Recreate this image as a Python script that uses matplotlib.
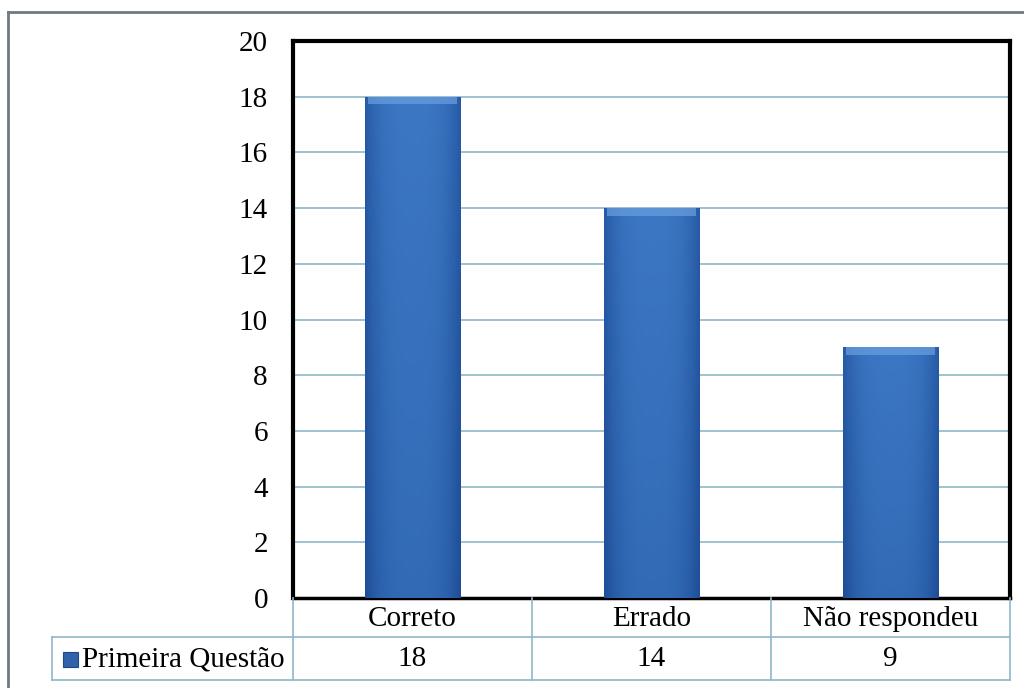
import numpy as np
import matplotlib.pyplot as plt
from matplotlib.lines import Line2D
from matplotlib.patches import Rectangle

categories = ["Correto", "Errado", "Não respondeu"]
values = [18, 14, 9]
series_name = "Primeira Questão"
yticks = [0, 2, 4, 6, 8, 10, 12, 14, 16, 18, 20]

plt.rcParams['font.family'] = ['Liberation Serif', 'DejaVu Serif']

W, H = 1024, 688
fig = plt.figure(figsize=(W / 100, H / 100), dpi=100)

def fx(px):
    return px / W

def fy(py):
    return 1 - py / H

x0, x1, ytop, ybot = 293, 1010, 41, 598
ax = fig.add_axes([fx(x0), fy(ybot), fx(x1) - fx(x0), fy(ytop) - fy(ybot)])

grid_c = "#8fb8c8"
x = np.arange(len(categories))
bars = ax.bar(x, values, width=0.4, color="#3a74bd", zorder=2)

# gradient fill for each bar (lighter top/centre, darker sides and bottom)
gx = np.linspace(-1, 1, 80)
gy = np.linspace(0, 1, 200)
GX, GY = np.meshgrid(gx, gy)
shade = 0.55 + 0.2 * GY - 0.45 * np.abs(GX) ** 3
c_top = np.array([0.28, 0.53, 0.84])
c_bot = np.array([0.10, 0.28, 0.56])
img = c_bot[None, None, :] + (c_top - c_bot)[None, None, :] * np.clip(shade, 0, 1)[..., None]
for b in bars:
    bx, bw, bh = b.get_x(), b.get_width(), b.get_height()
    im = ax.imshow(img, extent=[bx, bx + bw, 0, bh], origin="lower",
                   aspect="auto", zorder=3, interpolation="bilinear")
    im.set_clip_path(b)
    ax.add_patch(Rectangle((bx + 0.012, bh - 0.28), bw - 0.024, 0.28,
                           color="#6aa0e0", alpha=0.7, lw=0, zorder=4))

ax.set_xlim(-0.5, len(categories) - 0.5)
ax.set_ylim(0, 20)
ax.set_yticks(yticks)
ax.set_yticklabels([str(v) for v in yticks], fontsize=21)
ax.set_xticks([])
ax.tick_params(axis="y", length=0, pad=18)
ax.yaxis.grid(True, color=grid_c, lw=1.2, zorder=1)
ax.set_axisbelow(True)
for s in ax.spines.values():
    s.set_linewidth(3)
    s.set_color("black")
ax.spines["bottom"].set_linewidth(2.5)

# data table below the axes
col_w = (x1 - x0) / len(categories)
r1, r2, r3 = 598, 637, 680
tl = dict(color=grid_c, lw=1.2, transform=fig.transFigure)
fig.add_artist(Line2D([fx(52), fx(x1)], [fy(r2), fy(r2)], **tl))
fig.add_artist(Line2D([fx(52), fx(x1)], [fy(r3), fy(r3)], **tl))
fig.add_artist(Line2D([fx(52), fx(52)], [fy(r2), fy(r3)], **tl))
for i in range(len(categories) + 1):
    xx = x0 + i * col_w
    fig.add_artist(Line2D([fx(xx), fx(xx)], [fy(r1), fy(r3)], **tl))
for i, (c, v) in enumerate(zip(categories, values)):
    cx = x0 + (i + 0.5) * col_w
    fig.text(fx(cx), fy((r1 + r2) / 2 + 1), c, ha="center", va="center", fontsize=21)
    fig.text(fx(cx), fy((r2 + r3) / 2 + 1), str(v), ha="center", va="center", fontsize=21)
fig.add_artist(Rectangle((fx(63), fy(667)), fx(15), fy(652) - fy(667),
                         facecolor="#2f62a8", edgecolor="#1c4a86", lw=0.8,
                         transform=fig.transFigure))
fig.text(fx(82), fy((r2 + r3) / 2 + 1), series_name, ha="left", va="center", fontsize=21)

# outer frame (top and left edges visible)
frame = dict(color="#6e7a80", lw=2, transform=fig.transFigure)
fig.add_artist(Line2D([fx(8), 1], [fy(12), fy(12)], **frame))
fig.add_artist(Line2D([fx(8), fx(8)], [fy(12), 0], **frame))

fig.savefig("out.png", dpi=100)
